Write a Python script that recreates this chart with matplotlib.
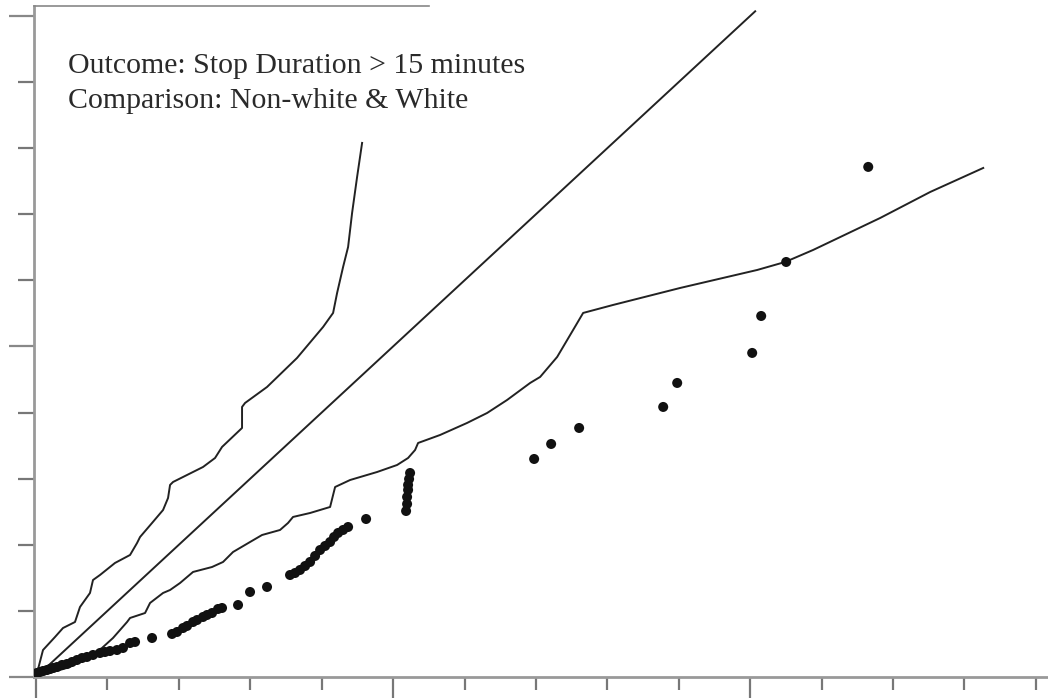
import matplotlib
matplotlib.use("Agg")
from matplotlib import pyplot as plt
import numpy as np

# upper band (step-like curve above the diagonal)
upper_x = [0.0, 0.098, 0.266, 0.378, 0.546, 0.616, 0.756, 0.798, 0.896, 1.106,
           1.317, 1.415, 1.457, 1.625, 1.779, 1.849, 1.877, 1.919, 2.339, 2.507,
           2.605, 2.885, 2.885, 2.927, 3.235, 3.655, 4.020, 4.160, 4.216, 4.300,
           4.370, 4.426, 4.496, 4.566]
upper_y = [0.0, 0.408, 0.605, 0.741, 0.832, 1.059, 1.271, 1.467, 1.543, 1.725,
           1.846, 2.027, 2.118, 2.330, 2.526, 2.708, 2.905, 2.950, 3.177, 3.313,
           3.480, 3.767, 4.085, 4.145, 4.387, 4.826, 5.295, 5.507, 5.809, 6.203,
           6.505, 7.020, 7.564, 8.079]

# lower band
lower_x = [0.0, 0.476, 0.924, 1.078, 1.275, 1.317, 1.527, 1.597, 1.779, 1.877,
           2.017, 2.199, 2.465, 2.619, 2.759, 2.997, 3.165, 3.417, 3.529, 3.599,
           3.838, 4.118, 4.188, 4.398, 4.776, 5.056, 5.210, 5.308, 5.350, 5.658,
           6.036, 6.317, 6.597, 6.919, 7.059, 7.297, 7.521, 7.661, 8.081, 9.020,
           10.098, 10.490, 10.882, 11.821, 12.521, 13.263]
lower_y = [0.0, 0.151, 0.439, 0.590, 0.832, 0.893, 0.968, 1.120, 1.271, 1.316,
           1.422, 1.589, 1.664, 1.740, 1.891, 2.042, 2.148, 2.224, 2.330, 2.421,
           2.481, 2.572, 2.874, 2.980, 3.101, 3.207, 3.313, 3.434, 3.540, 3.661,
           3.843, 3.994, 4.191, 4.448, 4.539, 4.841, 5.250, 5.507, 5.628, 5.885,
           6.157, 6.278, 6.460, 6.944, 7.337, 7.700]

# reference line y = x
diag = [0.0, 10.07]

# observed points
obs_x = [0.014, 0.056, 0.098, 0.154, 0.196, 0.238, 0.294, 0.364, 0.434, 0.504,
         0.574, 0.644, 0.714, 0.798, 0.896, 0.966, 1.036, 1.134, 1.218, 1.317,
         1.387, 1.625, 1.905, 1.975, 2.059, 2.115, 2.199, 2.255, 2.339, 2.395,
         2.465, 2.549, 2.605, 2.829, 2.997, 3.235, 3.557, 3.627, 3.697, 3.768,
         3.838, 3.908, 3.978, 4.048, 4.118, 4.174, 4.230, 4.300, 4.370, 4.622,
         5.182, 5.196, 5.196, 5.210, 5.210, 5.224, 5.238, 6.975, 7.213, 7.605,
         8.782, 8.978, 10.028, 10.154, 10.504, 11.653]
obs_y = [0.061, 0.076, 0.091, 0.106, 0.121, 0.136, 0.151, 0.182, 0.197, 0.227,
         0.257, 0.287, 0.303, 0.333, 0.363, 0.378, 0.393, 0.408, 0.439, 0.514,
         0.530, 0.590, 0.651, 0.681, 0.741, 0.772, 0.832, 0.862, 0.908, 0.938,
         0.968, 1.029, 1.044, 1.089, 1.286, 1.362, 1.543, 1.573, 1.619, 1.679,
         1.740, 1.831, 1.921, 1.982, 2.042, 2.118, 2.179, 2.224, 2.269, 2.390,
         2.511, 2.617, 2.723, 2.829, 2.905, 2.995, 3.086, 3.298, 3.525, 3.767,
         4.085, 4.448, 4.902, 5.461, 6.278, 7.716]

labels = ["Outcome: Stop Duration > 15 minutes",
          "Comparison: Non-white & White"]

fig = plt.figure(figsize=(10.48, 6.98), dpi=100)
ax = fig.add_axes([34 / 1048, 21 / 698, 1014 / 1048, 671 / 698])

line_kw = dict(color="#222222", lw=1.4, solid_joinstyle="round")
ax.plot(upper_x, upper_y, **line_kw)
ax.plot(diag, diag, **line_kw)
ax.plot(lower_x, lower_y, **line_kw)
ax.scatter(obs_x, obs_y, s=52, color="#111111", edgecolors="none", zorder=3)

ax.set_xlim(-0.028, 14.17)
ax.set_ylim(0, 10.15)

# axes look
for s in ["right"]:
    ax.spines[s].set_visible(False)
ax.spines["top"].set_bounds(-0.028, 5.5)
ax.spines["top"].set_color("#888888")
ax.spines["top"].set_linewidth(1.2)
ax.spines["left"].set_color("#999999")
ax.spines["left"].set_linewidth(2)
ax.spines["bottom"].set_color("#999999")
ax.spines["bottom"].set_linewidth(2)

ax.set_xticks([0, 5, 10])
ax.set_xticks([t for t in range(15) if t % 5], minor=True)
ax.set_yticks([0, 5, 10])
ax.set_yticks([t for t in range(11) if t % 5], minor=True)
ax.set_xticklabels([])
ax.set_yticklabels([])
ax.tick_params(axis="x", which="major", length=15, width=1.6, color="#777777")
ax.tick_params(axis="x", which="minor", length=9.5, width=1.6, color="#777777")
ax.tick_params(axis="y", which="major", length=18, width=1.6, color="#888888")
ax.tick_params(axis="y", which="minor", length=11.5, width=1.6, color="#777777")

ax.text(0.45, 9.13, labels[0], fontsize=21.5, family="Liberation Serif",
        color="#2a2a2a", va="baseline")
ax.text(0.45, 8.6, labels[1], fontsize=21.5, family="Liberation Serif",
        color="#2a2a2a", va="baseline")

fig.savefig("out.png", dpi=100)
